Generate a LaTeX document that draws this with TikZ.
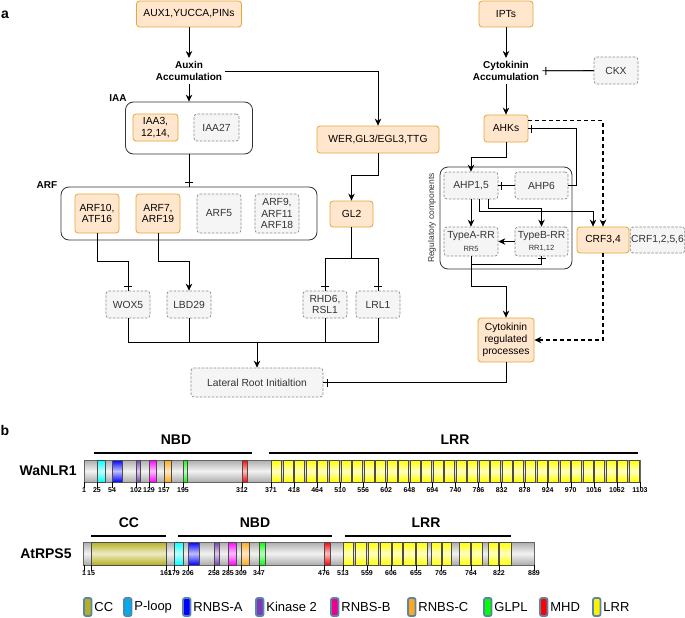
\documentclass[tikz,border=0pt]{standalone}
\usepackage{fontspec}
\setmainfont{Liberation Sans}
\usetikzlibrary{arrows.meta}
\definecolor{boxfill}{HTML}{FFE6CC}
\definecolor{boxline}{HTML}{E3A73A}
\definecolor{gfill}{HTML}{F5F5F5}
\definecolor{gline}{HTML}{8C8C8C}
\definecolor{gtext}{HTML}{333333}
\definecolor{ccol}{HTML}{B5B020}
\definecolor{kcol}{HTML}{7B3AB8}
\definecolor{ocol}{HTML}{FFA81C}
\definecolor{swline}{HTML}{5B84AC}
\tikzset{
  obox/.style={draw=boxline, fill=boxfill, line width=0.8pt, rounded corners=3pt, align=center,
    inner sep=1pt, minimum width=44pt, minimum height=27pt, font=\fontsize{10.3}{11.5}\selectfont},
  gbox/.style={draw=gline, line width=0.7pt, dash pattern=on 2.5pt off 1.5pt, fill=gfill, text=gtext,
    rounded corners=3pt, align=center, inner sep=1pt, minimum width=44pt, minimum height=27pt,
    font=\fontsize{10.3}{11.5}\selectfont},
  grp/.style={draw=black!80, line width=0.8pt, rounded corners=8pt},
  ttl/.style={font=\bfseries\fontsize{10}{12}\selectfont, align=center, inner sep=3pt},
  arr/.style={-{Stealth[length=7pt,width=6.5pt]}},
  inh/.style={postaction={draw,-{Bar[width=8pt]},shorten >=#1}},
  inh/.default=4pt,
  dsh/.style={line width=1.3pt, dash pattern=on 4pt off 3pt},
  bar/.style={draw=black!60, top color=gray!65, bottom color=gray!65, middle color=gray!10},
  dom/.style={draw=black!70, line width=0.5pt, top color=#1, bottom color=#1, middle color=#1!25},
  tick/.style={font=\bfseries\fontsize{7}{8}\selectfont, inner sep=0.5pt, anchor=north},
  head/.style={font=\bfseries\fontsize{14}{16}\selectfont, inner sep=1pt},
  leg/.style={font=\fontsize{13}{15}\selectfont, anchor=west, inner sep=1pt},
  sw/.style={draw=swline, line width=1.8pt, rounded corners=2pt}
}
\begin{document}
\begin{tikzpicture}[x=1pt, y=-1pt, line width=0.8pt]
\useasboundingbox (0,0) rectangle (685,618);
% part a, auxin side
\node[head] (la) at (5,15) {a};
\node[obox, minimum width=105pt, minimum height=26pt] (aux) at (189,14) {AUX1,YUCCA,PINs};
\node[ttl] (auxacc) at (189,71) {Auxin\\Accumulation};
\node[grp, minimum width=127pt, minimum height=52pt] (iaagrp) at (189,128) {};
\node[ttl] (iaalbl) at (118,98) {IAA};
\node[obox, minimum width=45pt] (iaa3) at (155.5,127.5) {IAA3,\\12,14,};
\node[gbox, minimum width=45pt] (iaa27) at (216.5,127.5) {IAA27};
\node[ttl] (arflbl) at (47,185) {ARF};
\node[grp, minimum width=256pt, minimum height=53pt] (arfgrp) at (189,213.5) {};
\node[obox, minimum height=39pt] (arf10) at (97,213.5) {ARF10,\\ATF16};
\node[obox, minimum height=39pt] (arf7) at (158,213.5) {ARF7,\\ARF19};
\node[gbox, minimum height=39pt] (arf5) at (219,213.5) {ARF5};
\node[gbox, minimum height=39pt] (arf9) at (277,213.5) {ARF9,\\ARF11\\ARF18};
\node[obox, minimum width=122pt] (wer) at (378,139.5) {WER,GL3/EGL3,TTG};
\node[obox, minimum width=43pt, minimum height=26pt] (gl2) at (351.5,214) {GL2};
\node[gbox] (wox5) at (128,304.5) {WOX5};
\node[gbox] (lbd29) at (189,304.5) {LBD29};
\node[gbox] (rhd6) at (325,304.5) {RHD6,\\RSL1};
\node[gbox] (lrl1) at (378,304.5) {LRL1};
\node[gbox, minimum width=132pt, minimum height=29pt] (lri) at (257,382.5) {Lateral Root Initialtion};
\coordinate (jn) at (257,342);

\draw[arr] (aux) -- (auxacc);
\draw[arr] (auxacc) -- (iaagrp);
\draw[inh] (iaagrp) -- (arfgrp);
\draw[arr] (auxacc.east) -| (wer);
\draw[inh] (arf10.south) -- ++(0,28) -| (wox5);
\draw[arr] (arf7.south) -- ++(0,28) -| (lbd29);
\draw[arr] (wer.south) -- ++(0,22) -| (gl2);
\draw[inh] (gl2.south) -- ++(0,31) -| (rhd6);
\draw[inh] (gl2.south) -- ++(0,31) -| (lrl1);
\draw (wox5) |- (jn);
\draw (lbd29) |- (jn);
\draw (rhd6) |- (jn);
\draw (lrl1) |- (jn);
\draw[arr] (jn) -- (lri);

% part a, cytokinin side
\node[obox, minimum width=54pt, minimum height=26pt] (ipts) at (506,14) {IPTs};
\node[ttl] (cytacc) at (506,71) {Cytokinin\\Accumulation};
\node[gbox] (ckx) at (616,70.5) {CKX};
\node[obox] (ahks) at (506,128.5) {AHKs};
\node[grp, minimum width=132pt, minimum height=102pt] (reggrp) at (506,218) {};
\node[rotate=90, text=gtext, font=\fontsize{8.5}{10}\selectfont, inner sep=1pt] (reglbl) at (432,218) {Regulatory components};
\node[gbox, minimum width=54pt] (ahp15) at (471,185.5) {AHP1,5};
\node[gbox, minimum width=53pt] (ahp6) at (541.5,185.5) {AHP6};
\node[gbox, minimum width=54pt, minimum height=29pt] (typea) at (471,241.5) {TypeA-RR\\[1pt]{\fontsize{7.5}{8}\selectfont RR5}};
\node[gbox, minimum width=53pt, minimum height=29pt] (typeb) at (541.5,241.5) {TypeB-RR\\[1pt]{\fontsize{7.5}{8}\selectfont RR1,12}};
\node[obox, minimum width=52pt, minimum height=26pt] (crf34) at (603,240) {CRF3,4};
\node[gbox, minimum width=53pt, minimum height=26pt] (crf1256) at (657.5,240) {CRF1,2,5,6};
\node[obox, minimum width=56pt, minimum height=44pt, font=\fontsize{10.3}{12}\selectfont] (crp) at (506,340) {Cytokinin\\regulated\\processes};

\draw[arr] (ipts) -- (cytacc);
\draw[arr] (cytacc) -- (ahks);
\draw[inh=3pt] (ckx) -- (cytacc);
\draw[dsh, arr] ([yshift=-6pt]ahks.north east) -| (crf34.north);
\draw[arr] (ahks.south) -- ++(0,15) -| (ahp15);
\draw[inh=3pt] (ahp6) -- (ahp15);
\draw[inh=3pt] (ahp6.east) -- ++(8,0) |- (ahks);
\draw[arr] (ahp15) -- (typea);
\draw[arr] ([xshift=8pt]ahp15.south) -- ++(0,12) -| ([xshift=-10pt]crf34.north);
\draw[arr] ([xshift=17pt]ahp15.south) -- ++(0,9) -| (typeb);
\draw[arr] (typeb) -- (typea);
\draw[inh=2pt] (typea.south) -- ++(0,8) -| (typeb);
\draw[arr] (typea.south) -- ++(0,30) -| (crp);
\draw[dsh, arr] (crf34) |- (crp);
\draw[inh] (crp) |- (lri);

% part b
\node[head] (lb) at (5,430) {b};
\node[head, anchor=east] (wanlr) at (78,471) {WaNLR1};
\draw[line width=1.5pt] (94,453) -- (252,453);
\draw[line width=1.5pt] (269,453) -- (638,453);
\node[head] (wnbd) at (176,440) {NBD};
\node[head] (wlrr) at (455,440) {LRR};
\draw[bar] (84,460) rectangle (640,482);
\foreach \a/\b/\c in {97/105/cyan, 112/122/blue, 136/140/kcol, 149/156/magenta, 164/171/ocol, 183/187/green, 242/247/red}
  \draw[dom=\c] (\a,460) rectangle (\b,482);
\foreach \i in {0,...,31}
  \draw[dom=yellow] ({271.6+11.53*\i},460) rectangle ({281.6+11.53*\i},482);
\foreach \x/\t in {84/1, 97/25, 112/54, 136/102, 149/129, 164/157, 183/195, 242/312} {
  \draw[line width=0.5pt] (\x,482) -- (\x,488);
  \node[tick] (w\t) at (\x,487) {\t};
}
\foreach \k/\t in {0/371, 1/418, 2/464, 3/510, 4/556, 5/602, 6/648, 7/694, 8/740, 9/786, 10/832, 11/878, 12/924, 13/970, 14/1016, 15/1062, 16/1103} {
  \draw[line width=0.5pt] ({271+23.06*\k},482) -- ++(0,6);
  \node[tick] (w\t) at ({271+23.06*\k},487) {\t};
}

\node[head, anchor=east] (atrps) at (73,554) {AtRPS5};
\draw[line width=1.5pt] (91,536) -- (166,536);
\draw[line width=1.5pt] (178,536) -- (332,536);
\draw[line width=1.5pt] (345,536) -- (511,536);
\node[head] (acc) at (129,523) {CC};
\node[head] (anbd) at (255,523) {NBD};
\node[head] (alrr) at (426,523) {LRR};
\draw[bar] (83,542) rectangle (534,565);
\foreach \a/\b/\c in {91/166/ccol, 174/183/cyan, 188/199/blue, 214/219/kcol, 228/236/magenta, 241/249/ocol, 259/265/green, 324/330/red,
  343/353/yellow, 355/366/yellow, 368/378/yellow, 380/391/yellow, 392/402/yellow, 403/415/yellow, 416/427/yellow,
  431/441/yellow, 442/451/yellow, 459/470/yellow, 471/482/yellow, 488/498/yellow, 499/511/yellow}
  \draw[dom=\c] (\a,542) rectangle (\b,565);
\foreach \x/\t in {84/1, 91/15, 166/161, 174/179, 188/206, 214/258, 228/285, 241/309, 259/347, 324/476,
  343/513, 367/559, 391/606, 416/655, 441/705, 471/764, 499/822, 534/889} {
  \draw[line width=0.5pt] (\x,565) -- (\x,571);
  \node[tick] (a\t) at (\x,570) {\t};
}

% legend
\foreach \x/\c/\t [count=\i] in {83/ccol/CC, 123/cyan/P-loop, 182/blue/RNBS-A, 255/kcol/Kinase 2, 330/magenta/RNBS-B,
  407/ocol/RNBS-C, 483/green/GLPL, 539/red/MHD, 592/yellow/LRR} {
  \draw[sw, fill=\c] (\x+1,598) rectangle ++(7.5,18);
  \node[leg] (key\i) at (\x+10,607) {\t};
}
\end{tikzpicture}
\end{document}
